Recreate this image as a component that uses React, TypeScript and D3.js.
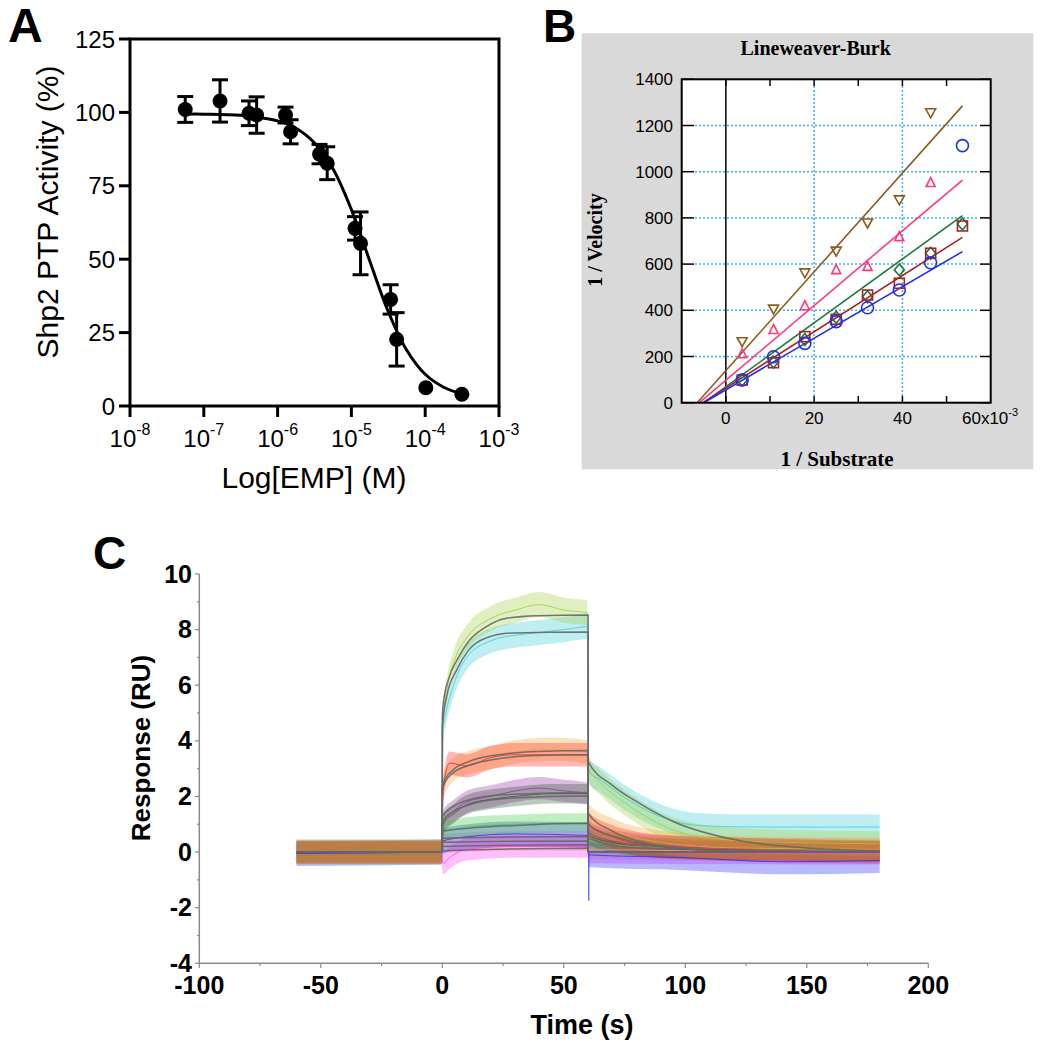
import React from 'react';
import * as d3 from 'd3';

// ---------- Panel A data ----------
const concA = [5.6e-8, 1.66e-7, 4.1e-7, 5.2e-7, 1.28e-6, 1.5e-6, 3.7e-6, 4.7e-6, 1.12e-5, 1.33e-5, 3.4e-5, 4.1e-5, 1.02e-4, 3.14e-4];
const activityA = [101, 103.9, 99.7, 99.1, 99.1, 93.4, 85.8, 82.7, 60.5, 55.4, 36.3, 22.7, 6.2, 4];
const errorA = [4.4, 7.2, 4.2, 6.2, 2.7, 4.1, 3.3, 5.6, 4.0, 10.7, 5.0, 9.1, 0, 0];
const fitLogConcA = [-7.25, -7, -6.5, -6, -5.75, -5.5, -5.25, -5, -4.75, -4.5, -4.25, -4, -3.75, -3.5];
const fitActivityA = [99.4, 99.4, 99.0, 97.1, 94.6, 89.6, 80.8, 66.9, 49.3, 32.1, 19.0, 10.8, 6.4, 4.1];
const xTickExpA = [-8, -7, -6, -5, -4, -3];
const yTicksA = [0, 25, 50, 75, 100, 125];

// ---------- Panel B data (1/Substrate in x10^-3) ----------
const substrateB = [3.7, 10.8, 17.9, 25.0, 32.1, 39.3, 46.4, 53.6];
const velBrown = [264, 405, 562, 656, 778, 878, 1255, null];
const velPink = [212, 317, 420, 576, 590, 719, 953, null];
const velGreen = [98, 176, 274, 370, 459, 575, 647, 774];
const velRed = [98, 173, 286, 361, 466, 517, 647, 765];
const velBlue = [98, 199, 257, 351, 411, 488, 606, 1113];
const seriesColorsB = ['#8a5d1c', '#ff3a7a', '#1d7a3e', '#a82424', '#2230ee'];
const seriesShapesB = ['down', 'up', 'diamond', 'square', 'circle'];
const fitInterceptB = [-6.5, -6.0, -5.0, -5.2, -5.0];
const fitEndXB = 53.6;
const fitEndYB = [1285, 964, 810, 716, 654];
const xTicksB = [0, 20, 40];
const yTicksB = [0, 200, 400, 600, 800, 1000, 1200, 1400];

// ---------- Panel C data ----------
const traceYellowGreen = [[-60, 0], [-0.3, 0], [0.3, 4.8], [2, 5.9], [5, 6.9], [10, 7.7], [20, 8.4], [30, 8.7], [40, 8.9], [50, 8.7], [59.7, 8.6], [60.3, 3.0], [65, 2.5], [78, 1.6], [92, 0.9], [110, 0.5], [140, 0.35], [180, 0.3]];
const traceCyan = [[-60, 0], [-0.3, 0], [0.3, 4.4], [2, 5.2], [5, 6.1], [10, 7.0], [20, 7.6], [30, 7.8], [40, 7.9], [50, 8.0], [59.7, 8.1], [60.3, 2.9], [65, 2.6], [78, 1.8], [92, 1.2], [106, 0.95], [130, 0.9], [180, 0.9]];
const traceOrange = [[-60, 0], [-0.3, 0], [0.3, 2.3], [5, 3.0], [10, 3.2], [20, 3.4], [30, 3.6], [45, 3.7], [59.7, 3.6], [60.3, 1.3], [70, 0.8], [90, 0.35], [120, 0.15], [180, 0.1]];
const traceRed = [[-60, 0], [-0.3, 0], [0.3, 2.2], [3, 3.2], [10, 3.1], [20, 3.4], [30, 3.5], [45, 3.5], [59.7, 3.5], [60.3, 1.0], [70, 0.55], [90, 0.2], [120, 0.1], [180, 0]];
const tracePurple = [[-60, 0], [-0.3, 0], [0.3, 1.1], [5, 1.5], [10, 1.8], [20, 2.0], [30, 2.2], [40, 2.3], [50, 2.2], [59.7, 2.1], [60.3, 0.7], [70, 0.4], [90, 0.2], [180, 0.05]];
const traceDarkGreen = [[-60, 0], [-0.3, 0], [0.3, 1.0], [5, 1.4], [10, 1.7], [20, 1.9], [30, 2.0], [45, 2.1], [59.7, 2.1], [60.3, 0.6], [70, 0.35], [90, 0.15], [180, 0]];
const traceGreen = [[-60, 0], [-0.3, 0], [0.3, 0.7], [5, 0.8], [10, 0.9], [30, 1.0], [59.7, 1.05], [60.3, 0.4], [80, 0.2], [120, 0.1], [180, 0.05]];
const traceBlue = [[-60, -0.05], [-0.3, 0], [0.3, 0.4], [10, 0.55], [30, 0.65], [59.7, 0.6], [60.3, -0.1], [100, -0.2], [140, -0.35], [180, -0.3]];
const traceMagenta = [[-60, 0], [-0.3, 0], [0.3, -0.4], [3, -0.2], [10, 0.1], [30, 0.2], [59.7, 0.2], [60.3, 0], [180, -0.05]];
const tracePink = [[-60, 0], [-0.3, 0], [0.3, 0.3], [30, 0.4], [59.7, 0.4], [60.3, 0.1], [180, 0]];
const tracesC = [traceMagenta, tracePink, traceBlue, tracePurple, traceDarkGreen, traceCyan, traceYellowGreen, traceGreen, traceOrange, traceRed];
const traceColorsC = ['#ff3cff', '#ff8a8a', '#2a2aff', '#9a2fb0', '#2d5a2d', '#3ccad8', '#9fcf3c', '#40cc40', '#f2a43a', '#ff2a1a'];
const traceNoiseC = [0.4, 0.35, 0.45, 0.4, 0.35, 0.45, 0.45, 0.35, 0.42, 0.42];

const fitC1 = [[-60, 0], [0, 0], [0.01, 4.9], [0.5, 5.4], [2.5, 6.2], [6, 6.9], [11, 7.6], [18, 8.1], [26, 8.4], [39, 8.5], [60, 8.53], [60.01, 3.26], [70, 2.4], [81, 1.76], [95, 1.1], [120, 0.45], [150, 0.15], [180, 0.05]];
const fitC2 = [[-60, 0], [0, 0], [0.01, 4.5], [1.8, 5.6], [6, 6.56], [11, 7.28], [18, 7.7], [29, 7.88], [60, 7.91], [60.01, 1.4], [70, 0.75], [85, 0.3], [110, 0.08], [180, 0]];
const fitC3 = [[-60, 0], [0, 0], [0.01, 2.42], [4.5, 2.96], [11, 3.26], [25, 3.52], [39, 3.62], [60, 3.65], [60.01, 1.0], [75, 0.45], [95, 0.15], [130, 0.02], [180, 0]];
const fitC4 = [[-60, 0], [0, 0], [0.01, 2.3], [4.5, 2.85], [11, 3.12], [25, 3.38], [39, 3.47], [60, 3.5], [60.01, 0], [180, 0]];
const fitC5 = [[-60, 0], [0, 0], [0.01, 1.28], [4.5, 1.64], [11, 1.88], [25, 2.06], [60, 2.14], [60.01, 0.5], [80, 0.15], [180, 0]];
const fitC6 = [[-60, 0], [0, 0], [0.01, 1.1], [4.5, 1.45], [11, 1.7], [25, 1.92], [60, 2.02], [60.01, 0], [180, 0]];
const fitC7 = [[-60, 0], [0, 0], [0.01, 0.75], [11, 0.86], [30, 0.96], [60, 1.04], [60.01, 0], [180, 0]];
const fitC8 = [[0, 0], [0.01, 0.5], [60, 0.56], [60.01, 0]];
const fitC9 = [[0, 0], [0.01, 0.35], [60, 0.4], [60.01, 0]];
const fitC10 = [[0, 0], [0.01, 0.2], [60, 0.26], [60.01, 0]];
const fitC11 = [[0, 0], [0.01, 0.05], [60, 0.14], [60.01, 0]];
const fitsC = [fitC1, fitC2, fitC3, fitC4, fitC5, fitC6, fitC7, fitC8, fitC9, fitC10, fitC11];
const spikeC = [[60.3, 0], [60.3, -1.75]];
const xTicksC = [-100, -50, 0, 50, 100, 150, 200];
const yTicksC = [-4, -2, 0, 2, 4, 6, 8, 10];

const SANS = 'Liberation Sans, Arial, Helvetica, sans-serif';
const SERIF = 'Liberation Serif, Times New Roman, serif';

function PanelA() {
  const x = d3.scaleLog().domain([1e-8, 1e-3]).range([130, 499]);
  const y = d3.scaleLinear().domain([0, 125]).range([406, 39]);
  const line = d3.line<number>()
    .x((d, i) => x(Math.pow(10, fitLogConcA[i])))
    .y((d) => y(d))
    .curve(d3.curveCatmullRom);
  return (
    <g>
      <text x={8} y={42} fontFamily={SANS} fontWeight="bold" fontSize={48}>A</text>
      <rect x={130} y={39} width={369} height={367} fill="none" stroke="#000" strokeWidth={3} />
      {yTicksA.map((t) => (
        <g key={t}>
          <line x1={119} x2={130} y1={y(t)} y2={y(t)} stroke="#000" strokeWidth={3} />
          <text x={115} y={y(t) + 8.5} textAnchor="end" fontFamily={SANS} fontSize={24}>{t}</text>
        </g>
      ))}
      {xTickExpA.map((e) => (
        <g key={e}>
          <line x1={x(Math.pow(10, e))} x2={x(Math.pow(10, e))} y1={406} y2={417} stroke="#000" strokeWidth={3} />
          <text x={x(Math.pow(10, e))} y={447} textAnchor="middle" fontFamily={SANS} fontSize={24}>
            <tspan>10</tspan>
            <tspan dy={-12} fontSize={16}>{String(e)}</tspan>
          </text>
        </g>
      ))}
      <text x={314} y={488} textAnchor="middle" fontFamily={SANS} fontSize={30}>Log[EMP] (M)</text>
      <text transform="translate(58,212) rotate(-90)" textAnchor="middle" fontFamily={SANS} fontSize={30}>Shp2 PTP Activity (%)</text>
      <path d={line(fitActivityA) || ''} fill="none" stroke="#000" strokeWidth={3} />
      {concA.map((c, i) => (
        <g key={i}>
          {errorA[i] > 0 && (
            <g stroke="#000" strokeWidth={3}>
              <line x1={x(c)} x2={x(c)} y1={y(activityA[i] - errorA[i])} y2={y(activityA[i] + errorA[i])} />
              <line x1={x(c) - 8} x2={x(c) + 8} y1={y(activityA[i] - errorA[i])} y2={y(activityA[i] - errorA[i])} />
              <line x1={x(c) - 8} x2={x(c) + 8} y1={y(activityA[i] + errorA[i])} y2={y(activityA[i] + errorA[i])} />
            </g>
          )}
          <circle cx={x(c)} cy={y(activityA[i])} r={7.5} fill="#000" />
        </g>
      ))}
    </g>
  );
}

function marker(shape: string, cx: number, cy: number, color: string, key: string) {
  const common = { fill: 'none', stroke: color, strokeWidth: 1.6 };
  if (shape === 'circle') return <circle key={key} cx={cx} cy={cy} r={6} {...common} />;
  if (shape === 'square') return <rect key={key} x={cx - 5} y={cy - 5} width={10} height={10} {...common} />;
  if (shape === 'diamond') return <path key={key} d={`M${cx},${cy - 6}L${cx + 5},${cy}L${cx},${cy + 6}L${cx - 5},${cy}Z`} {...common} />;
  if (shape === 'up') return <path key={key} d={`M${cx},${cy - 5}L${cx + 4.5},${cy + 4}L${cx - 4.5},${cy + 4}Z`} {...common} />;
  return <path key={key} d={`M${cx - 5},${cy - 4}L${cx + 5},${cy - 4}L${cx},${cy + 5}Z`} {...common} />;
}

function PanelB() {
  const x = d3.scaleLinear().domain([-10, 60]).range([681.7, 990.7]);
  const y = d3.scaleLinear().domain([0, 1400]).range([402.7, 79.3]);
  const seriesB = [velBrown, velPink, velGreen, velRed, velBlue];
  const gridColor = '#36b6ee';
  return (
    <g>
      <text x={543} y={42} fontFamily={SANS} fontWeight="bold" fontSize={46}>B</text>
      <rect x={581.7} y={33.3} width={451.6} height={436} fill="#d9d9d9" />
      <rect x={681.7} y={79.3} width={309} height={323.4} fill="#fff" />
      {yTicksB.filter((t) => t > 0 && t < 1400).map((t) => (
        <line key={'gh' + t} x1={695} x2={978} y1={y(t)} y2={y(t)} stroke={gridColor} strokeWidth={1.5} strokeDasharray="2 2" />
      ))}
      {[20, 40].map((t) => (
        <line key={'gv' + t} x1={x(t)} x2={x(t)} y1={86} y2={396} stroke={gridColor} strokeWidth={1.5} strokeDasharray="2 2" />
      ))}
      <line x1={x(0)} x2={x(0)} y1={79.3} y2={402.7} stroke="#000" strokeWidth={1.5} />
      {fitInterceptB.map((x0, i) => (
        <line key={'f' + i} x1={x(x0)} y1={y(0)} x2={x(fitEndXB)} y2={y(fitEndYB[i])} stroke={seriesColorsB[i]} strokeWidth={1.6} />
      ))}
      {seriesB.map((vals, si) =>
        vals.map((v, i) => (v == null ? null : marker(seriesShapesB[si], x(substrateB[i]), y(v), seriesColorsB[si], `m${si}-${i}`)))
      )}
      {yTicksB.map((t) => (
        <g key={'yt' + t}>
          <line x1={681.7} x2={694} y1={y(t)} y2={y(t)} stroke="#000" strokeWidth={1.5} />
          <line x1={980} x2={990.7} y1={y(t)} y2={y(t)} stroke="#000" strokeWidth={1.5} />
          <text x={673} y={y(t) + 6} textAnchor="end" fontFamily={SANS} fontSize={17}>{t}</text>
        </g>
      ))}
      {[0, 10, 20, 30, 40, 50].map((t) => (
        <g key={'xt' + t}>
          <line x1={x(t)} x2={x(t)} y1={402.7} y2={396} stroke="#000" strokeWidth={1.5} />
          <line x1={x(t)} x2={x(t)} y1={79.3} y2={86} stroke="#000" strokeWidth={1.5} />
        </g>
      ))}
      <rect x={681.7} y={79.3} width={309} height={323.4} fill="none" stroke="#000" strokeWidth={2} />
      {xTicksB.map((t) => (
        <text key={'xl' + t} x={x(t)} y={423.5} textAnchor="middle" fontFamily={SANS} fontSize={17}>{t}</text>
      ))}
      <text x={962} y={423.5} fontFamily={SANS} fontSize={17}>
        <tspan>60x10</tspan>
        <tspan dy={-8} fontSize={11}>-3</tspan>
      </text>
      <text x={815.7} y={55} textAnchor="middle" fontFamily={SERIF} fontWeight="bold" fontSize={20}>Lineweaver-Burk</text>
      <text x={837} y={466} textAnchor="middle" fontFamily={SERIF} fontWeight="bold" fontSize={21}>1 / Substrate</text>
      <text transform="translate(602,240) rotate(-90)" textAnchor="middle" fontFamily={SERIF} fontWeight="bold" fontSize={20}>1 / Velocity</text>
    </g>
  );
}

function PanelC() {
  const x = d3.scaleLinear().domain([-100, 200]).range([199.3, 928.3]);
  const y = d3.scaleLinear().domain([-4, 10]).range([963.3, 574]);
  const line = d3.line<number[]>().x((d) => x(d[0])).y((d) => y(d[1])).curve(d3.curveMonotoneX);
  const axisColor = '#8a8a8a';
  return (
    <g>
      <text x={93} y={569} fontFamily={SANS} fontWeight="bold" fontSize={46}>C</text>
      {tracesC.map((tr, i) => {
        const hw = traceNoiseC[i];
        const area = d3.area<number[]>()
          .x((d) => x(d[0]))
          .y0((d) => y(d[1] - hw))
          .y1((d) => y(d[1] + hw))
          .curve(d3.curveMonotoneX);
        return <path key={'tr' + i} d={area(tr) || ''} fill={traceColorsC[i]} fillOpacity={0.33} stroke="none" />;
      })}
      {tracesC.map((tr, i) => (
        <path key={'tl' + i} d={line(tr) || ''} fill="none" stroke={traceColorsC[i]} strokeWidth={1} strokeOpacity={0.8} />
      ))}
      <path d={line(spikeC) || ''} stroke="#2a2aff" strokeWidth={1} fill="none" />
      {fitsC.map((f, i) => (
        <path key={'fit' + i} d={line(f) || ''} fill="none" stroke="#666" strokeWidth={1.5} strokeOpacity={0.9} />
      ))}
      <line x1={199.3} x2={199.3} y1={574} y2={963.3} stroke={axisColor} strokeWidth={1.5} />
      <line x1={199.3} x2={928.3} y1={963.3} y2={963.3} stroke={axisColor} strokeWidth={1.5} />
      {d3.range(-4, 11, 1).map((t) => (
        <line key={'ym' + t} x1={t % 2 === 0 ? 195 : 197} x2={199.3} y1={y(t)} y2={y(t)} stroke={axisColor} strokeWidth={1.2} />
      ))}
      {yTicksC.map((t) => (
        <text key={'yl' + t} x={192} y={y(t) + 8.5} textAnchor="end" fontFamily={SANS} fontWeight="bold" fontSize={25}>{t}</text>
      ))}
      {d3.range(-100, 201, 25).map((t) => (
        <line key={'xm' + t} x1={x(t)} x2={x(t)} y1={963.3} y2={t % 50 === 0 ? 968 : 966} stroke={axisColor} strokeWidth={1.2} />
      ))}
      {xTicksC.map((t) => (
        <text key={'xl' + t} x={x(t)} y={994} textAnchor="middle" fontFamily={SANS} fontWeight="bold" fontSize={25}>{t}</text>
      ))}
      <text x={582} y={1034} textAnchor="middle" fontFamily={SANS} fontWeight="bold" fontSize={27}>Time (s)</text>
      <text transform="translate(150,748) rotate(-90)" textAnchor="middle" fontFamily={SANS} fontWeight="bold" fontSize={26}>Response (RU)</text>
    </g>
  );
}

export default function App() {
  return (
    <svg width={1044} height={1050} style={{ position: 'absolute', left: 0, top: 0, background: '#fff' }}>
      <rect x={0} y={0} width={1044} height={1050} fill="#fff" />
      <PanelA />
      <PanelB />
      <PanelC />
    </svg>
  );
}
